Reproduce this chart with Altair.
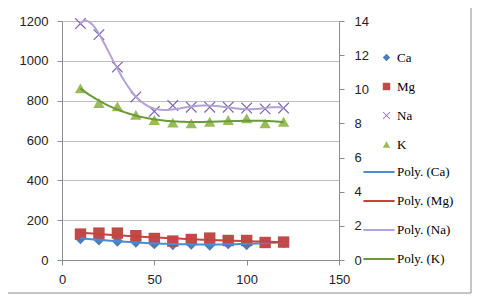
import altair as alt
import pandas as pd

# ---- data ----
x_vals = [10, 20, 30, 40, 50, 60, 70, 80, 90, 100, 110, 120]
ca = [108, 102, 95, 90, 82, 78, 80, 75, 82, 78, 88, 88]          # left axis
mg = [130, 135, 135, 122, 108, 95, 103, 110, 98, 98, 88, 90]     # left axis
na = [13.85, 13.2, 11.3, 9.55, 8.7, 9.05, 8.95, 8.95, 8.95, 8.9, 8.85, 8.9]  # right axis
k = [10.05, 9.2, 9.0, 8.5, 8.2, 8.05, 8.0, 8.1, 8.2, 8.3, 8.0, 8.1]          # right axis

series_names = ["Ca", "Mg", "Na", "K"]
poly_names = ["Poly. (Ca)", "Poly. (Mg)", "Poly. (Na)", "Poly. (K)"]
poly_orders = {"Ca": 2, "Mg": 2, "Na": 6, "K": 3}
left_ticks = [0, 200, 400, 600, 800, 1000, 1200]
right_ticks = [0, 2, 4, 6, 8, 10, 12, 14]
x_ticks = [0, 50, 100, 150]

# ---- styles ----
marker_colors = ["#4A7EBB", "#BE4B48", "#7E63B0", "#9BBB59"]
line_colors = ["#4A8CD8", "#C8423E", "#B4A2D6", "#6A9A3A"]
X_PATH = "M-0.85,-1L0,-0.15L0.85,-1L1,-0.85L0.15,0L1,0.85L0.85,1L0,0.15L-0.85,1L-1,0.85L-0.15,0L-1,-0.85Z"
shapes = ["diamond", "square", X_PATH, "triangle-up"]

rows = []
for name, vals in [("Ca", ca), ("Mg", mg), ("Na", na), ("K", k)]:
    for xv, v in zip(x_vals, vals):
        rows.append({"x": xv, "series": name, "value": v})
df = pd.DataFrame(rows)
df_left = df[df.series.isin(["Ca", "Mg"])]
df_right = df[df.series.isin(["Na", "K"])]

label_font = "Liberation Sans"
leg_font = "Liberation Serif"

leg_points = alt.Legend(title=None, orient="none", legendX=318, legendY=30, symbolSize=55,
                        labelFont=leg_font, labelFontSize=13, labelColor="black",
                        labelOffset=4, rowPadding=15, padding=0, symbolStrokeWidth=0)
leg_lines = alt.Legend(title=None, orient="none", legendX=310, legendY=144,
                       symbolType="M-2.6,0L2.6,0", symbolSize=144, symbolStrokeWidth=2,
                       labelFont=leg_font, labelFontSize=13, labelColor="black",
                       labelOffset=11, rowPadding=15, padding=0)

x_enc = alt.X("x:Q", scale=alt.Scale(domain=[0, 150], nice=False),
              axis=alt.Axis(values=x_ticks, grid=False, title=None, labelPadding=8,
                            labelFlush=False, format="d"))
yL = alt.Y("value:Q", scale=alt.Scale(domain=[0, 1200], nice=False),
           axis=alt.Axis(orient="left", values=left_ticks, grid=True, title=None, labelPadding=9,
                         labelFlush=False, format="d"))
yR = alt.Y("value:Q", scale=alt.Scale(domain=[0, 14], nice=False),
           axis=alt.Axis(orient="right", values=right_ticks, grid=False, title=None, labelPadding=10,
                         labelFlush=False, format="d"))

color_enc = alt.Color("series:N", scale=alt.Scale(domain=series_names, range=marker_colors), legend=leg_points)
shape_enc = alt.Shape("series:N", scale=alt.Scale(domain=series_names, range=shapes), legend=leg_points)
stroke_enc = alt.Stroke("poly:N", scale=alt.Scale(domain=poly_names, range=line_colors), legend=leg_lines)


def points(data, y):
    return alt.Chart(data).mark_point(filled=True, size=130, opacity=1).encode(
        x=x_enc, y=y, color=color_enc, shape=shape_enc)


def trend(data, name, y):
    return alt.Chart(data).transform_filter(
        alt.datum.series == name
    ).transform_regression(
        "x", "value", method="poly", order=poly_orders[name]
    ).transform_calculate(
        poly="'Poly. (" + name + ")'"
    ).mark_line(strokeWidth=2).encode(x=x_enc, y=y, stroke=stroke_enc)


border = alt.Chart(pd.DataFrame({"a": [0]})).mark_rect(
    fillOpacity=0, stroke="#8c8c8c", strokeWidth=1
).encode(x=alt.value(-55), x2=alt.value(409), y=alt.value(-14), y2=alt.value(272))

layer_left = alt.layer(border, points(df_left, yL), trend(df_left, "Ca", yL), trend(df_left, "Mg", yL))
layer_right = alt.layer(points(df_right, yR), trend(df_right, "Na", yR), trend(df_right, "K", yR))

chart = alt.layer(layer_left, layer_right).resolve_scale(y="independent").properties(
    width=277, height=239,
    autosize=alt.AutoSizeParams(type="none"),
    padding={"left": 54, "top": 13, "right": 133, "bottom": 34},
).configure_view(stroke=None).configure_axis(
    labelFont=label_font, labelFontSize=13, labelColor="#222222",
    domainColor="#8c8c8c", tickColor="#8c8c8c", gridColor="#bdbdbd",
    tickSize=5, domainWidth=1, tickWidth=1, gridWidth=1,
)

chart.save("out.html", embed_options={"renderer": "svg", "actions": False})
